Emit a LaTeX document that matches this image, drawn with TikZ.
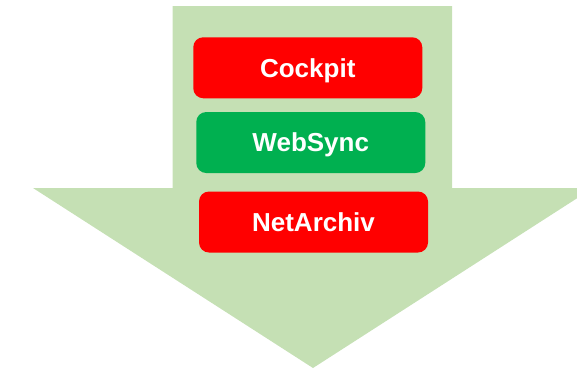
\documentclass[tikz,border=0pt]{standalone}
\usepackage{fontspec}
\setmainfont{Liberation Sans}
\usepackage{tikz}
\usetikzlibrary{calc}

\definecolor{pfeilgruen}{HTML}{C5E0B4}
\definecolor{modulrot}{HTML}{FF0000}
\definecolor{modulgruen}{HTML}{00B050}

\begin{document}
\begin{tikzpicture}[x=1pt,y=-1pt,
        modul/.style={rounded corners=10pt, minimum width=229pt, minimum height=61pt,
            inner sep=0pt, text=white, text depth=0pt, font=\fontsize{26}{30}\selectfont\bfseries}]
        \useasboundingbox (0,0) rectangle (577,368);
        \clip (0,0) rectangle (577,368);
        \fill[pfeilgruen] (172.5,6) -- (452,6) -- (452,188) -- (593,188) -- (313,368)
            -- (33,188) -- (172.5,188) -- cycle;
        \node[modul, fill=modulrot] (cockpit) at (307.75,67.75) {Cockpit};
        \node[modul, fill=modulgruen] (websync) at (310.75,142.5) {WebSync};
        \node[modul, fill=modulrot] (netarchiv) at (313.5,222) {NetArchiv};
    \end{tikzpicture}
\end{document}
